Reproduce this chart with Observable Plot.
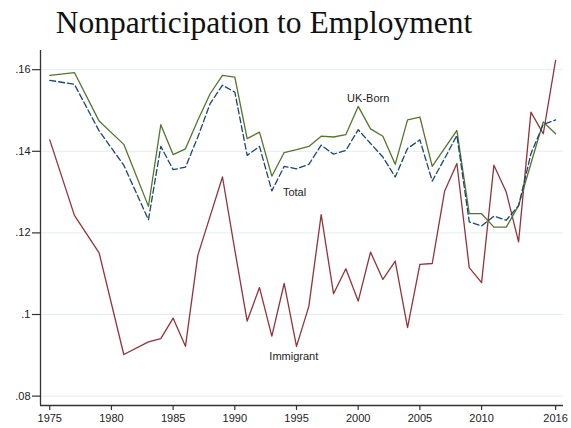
<!DOCTYPE html>
<html>
<head>
<meta charset="utf-8">
<script src="https://cdn.jsdelivr.net/npm/d3@7"></script>
<script src="https://cdn.jsdelivr.net/npm/@observablehq/plot@0.6"></script>
<style>
  html, body { margin: 0; padding: 0; background: white; }
  #wrap { width: 571px; height: 428px; position: relative; overflow: hidden; }
  #title { position: absolute; left: 0; top: 0; width: 528px; height: 45px; text-align: center;
           font-family: "Liberation Serif", "DejaVu Serif", serif; font-size: 31.5px; line-height: 45px; color: #111; }
  #chart { position: absolute; left: 0; top: 45px; }
</style>
</head>
<body>
<div id="wrap">
  <div id="title">Nonparticipation to Employment</div>
  <div id="chart"></div>
</div>
<script>
const years = [1975,1977,1979,1981,1983,1984,1985,1986,1987,1988,1989,1990,1991,1992,1993,1994,1995,1996,1997,1998,1999,2000,2001,2002,2003,2004,2005,2006,2007,2008,2009,2010,2011,2012,2013,2014,2015,2016];
const immigrant = [.1428,.1243,.1151,.0902,.0933,.0941,.0991,.0922,.1145,.1241,.1337,.1158,.0984,.1066,.0947,.1076,.0922,.1020,.1245,.1051,.1112,.1033,.1153,.1086,.1131,.0968,.1123,.1125,.1302,.1370,.1115,.1078,.1366,.1300,.1178,.1496,.1443,.1623];
const ukBorn = [.1586,.1593,.1474,.1417,.1265,.1465,.1392,.1406,.1476,.1541,.1586,.1582,.1431,.1447,.1339,.1397,.1404,.1412,.1437,.1435,.1441,.1510,.1455,.1437,.1368,.1477,.1484,.1363,.1407,.1451,.1247,.1247,.1214,.1214,.1267,.1370,.1472,.1443];
const total = [.1574,.1564,.1450,.1366,.1232,.1412,.1355,.1361,.1435,.1517,.1562,.1545,.1390,.1412,.1303,.1363,.1357,.1368,.1415,.1393,.1402,.1453,.1419,.1386,.1337,.1407,.1428,.1327,.1382,.1439,.1227,.1217,.1241,.1231,.1267,.1394,.1466,.1477];
const yTicks = [0.08, 0.10, 0.12, 0.14, 0.16];
const xTicks = [1975, 1980, 1985, 1990, 1995, 2000, 2005, 2010, 2016];
const seriesNames = ["UK-Born", "Total", "Immigrant"];
const labelX = [1999.1, 1993.9, 1992.8];
const labelY = [0.1529, 0.1298, 0.0898];

const xDomain = [1974.25, 2016.64];
const yDomain = [0.0777, 0.1647];

const rows = (vals) => years.map((yr, i) => ({year: yr, value: vals[i]}));
const labels = seriesNames.map((n, i) => ({name: n, x: labelX[i], y: labelY[i]}));
const fmt = d => String(+d.toFixed(2)).replace(/^0/, "");

const chart = Plot.plot({
  width: 571,
  height: 383,
  marginTop: 5,
  marginLeft: 40,
  marginRight: 8,
  marginBottom: 23,
  x: {domain: xDomain},
  y: {domain: yDomain},
  style: {fontFamily: "'Liberation Sans', Arial, sans-serif", fontSize: "11px", color: "#222", background: "white", overflow: "visible"},
  marks: [
    Plot.gridY(yTicks, {stroke: "#e4eef1", strokeOpacity: 1, strokeWidth: 1}),
    Plot.axisY(yTicks, {tickFormat: fmt, tickSize: 8, tickPadding: 2, label: null, stroke: "#333", strokeWidth: 1.2}),
    Plot.axisX(xTicks, {tickFormat: d => String(d), tickSize: 5, tickPadding: 4, label: null, stroke: "#333", strokeWidth: 1.2}),
    Plot.ruleX([xDomain[0]], {stroke: "#333", strokeWidth: 1.3}),
    Plot.ruleY([yDomain[0]], {stroke: "#333", strokeWidth: 1.3}),
    Plot.line(rows(immigrant), {x: "year", y: "value", stroke: "#90353b", strokeWidth: 1.3}),
    Plot.line(rows(ukBorn), {x: "year", y: "value", stroke: "#55752f", strokeWidth: 1.3}),
    Plot.line(rows(total), {x: "year", y: "value", stroke: "#1a476f", strokeWidth: 1.3, strokeDasharray: "6,3"}),
    Plot.text(labels, {x: "x", y: "y", text: "name", textAnchor: "start", fill: "#222", fontSize: 11})
  ]
});
document.getElementById("chart").appendChild(chart);
</script>
</body>
</html>
